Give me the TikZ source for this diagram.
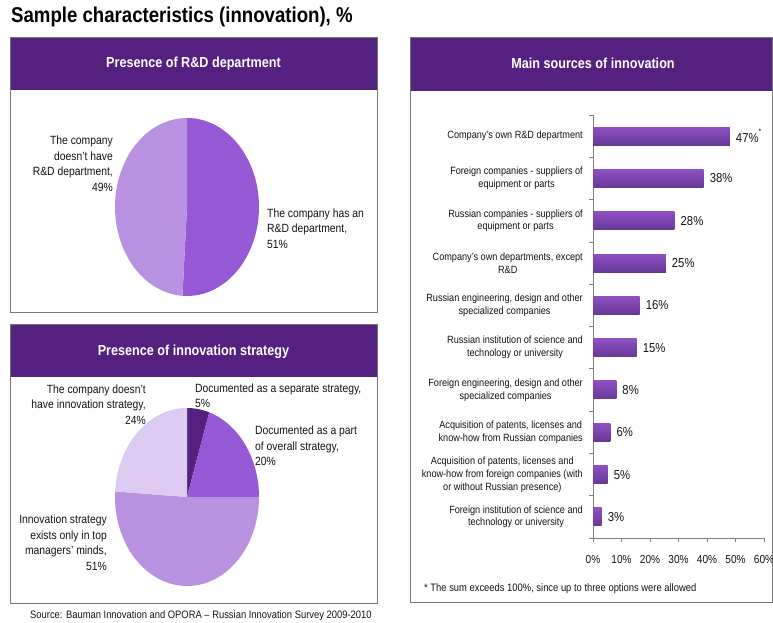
\documentclass[tikz,border=0pt]{standalone}
\usepackage{fontspec}
\setmainfont[FakeStretch=0.87]{Liberation Sans}
\definecolor{hdr}{RGB}{84,33,128}
\definecolor{pieMed}{RGB}{150,89,214}
\definecolor{pieLight}{RGB}{185,145,225}
\definecolor{pieVLight}{RGB}{220,202,240}
\definecolor{pieDark}{RGB}{84,33,128}
\definecolor{barTop}{RGB}{142,80,196}
\definecolor{barBot}{RGB}{104,56,150}
\definecolor{frameGray}{RGB}{120,120,120}
\definecolor{axisGray}{RGB}{128,128,128}
\definecolor{txt}{RGB}{20,20,20}
\begin{document}
\begin{tikzpicture}[x=1pt,y=-1pt,
  panel/.style={draw=frameGray,line width=0.8pt,fill=white},
  hdrbar/.style={fill=hdr},
  hdrtext/.style={text=white,font=\bfseries\fontsize{14.5}{17}\selectfont,inner sep=0pt},
  pielbl/.style={text=txt,font=\fontsize{11.9}{15.5}\selectfont,inner sep=0pt},
  catlbl/.style={text=txt,font=\fontsize{10.5}{12.8}\selectfont,inner sep=0pt,align=center,anchor=east},
  vallbl/.style={text=txt,font=\fontsize{13}{15}\selectfont,inner sep=0pt,anchor=west},
  ticklbl/.style={text=txt,font=\fontsize{11.6}{14}\selectfont,inner sep=0pt},
  smalltxt/.style={text=txt,font=\fontsize{10.8}{12}\selectfont,inner sep=0pt,anchor=west},
  bar/.style={top color=barTop,bottom color=barBot,draw=none},
  axisline/.style={draw=axisGray,line width=0.8pt}
]
\useasboundingbox (0,0) rectangle (773,623);

% title
\node[anchor=west,inner sep=0pt,text=black,font=\bfseries\fontsize{21.4}{24}\selectfont] (title) at (11,17) {Sample characteristics (innovation), \%};

% ---------- panel 1 ----------
\draw[panel] (10,37) rectangle (377,312);
\fill[hdrbar] (10,37) rectangle (377,90);
\draw[frameGray,line width=0.8pt] (10,37) rectangle (377,312);
\node[hdrtext] (h1) at (193.5,63.5) {Presence of R\&D department};

\coordinate (c1) at (187,207);
\fill[pieMed] (c1) -- ++(270:72 and 89) arc[start angle=270,end angle=453.6,x radius=72,y radius=89] -- cycle;
\fill[pieLight] (c1) -- ++(453.6:72 and 89) arc[start angle=453.6,end angle=630,x radius=72,y radius=89] -- cycle;

\node[pielbl,align=right,anchor=east] (l1a) at (113,163.5) {The company\\doesn't have\\R\&D department,\\49\%};
\node[pielbl,align=left,anchor=west] (l1b) at (267,228.5) {The company has an\\R\&D department,\\51\%};

% ---------- panel 2 ----------
\draw[panel] (10,324) rectangle (377,603);
\fill[hdrbar] (10,324) rectangle (377,377);
\draw[frameGray,line width=0.8pt] (10,324) rectangle (377,603);
\node[hdrtext] (h2) at (193.5,351.5) {Presence of innovation strategy};

\coordinate (c2) at (187,497);
\fill[pieDark] (c2) -- ++(270:72 and 89) arc[start angle=270,end angle=288,x radius=72,y radius=89] -- cycle;
\fill[pieMed] (c2) -- ++(288:72 and 89) arc[start angle=288,end angle=360,x radius=72,y radius=89] -- cycle;
\fill[pieLight] (c2) -- ++(360:72 and 89) arc[start angle=360,end angle=543.6,x radius=72,y radius=89] -- cycle;
\fill[pieVLight] (c2) -- ++(543.6:72 and 89) arc[start angle=543.6,end angle=630,x radius=72,y radius=89] -- cycle;

\node[pielbl,align=left,anchor=west] (l2a) at (195,395.5) {Documented as a separate strategy,\\5\%};
\node[pielbl,align=left,anchor=west] (l2b) at (255,446) {Documented as a part\\of overall strategy,\\20\%};
\node[pielbl,align=right,anchor=east] (l2c) at (146,404.5) {The company doesn't\\have innovation strategy,\\24\%};
\node[pielbl,align=right,anchor=east] (l2d) at (107,542.5) {Innovation strategy\\exists only in top\\managers' minds,\\51\%};

\node[smalltxt] (src) at (30,616) {Source: Bauman Innovation and OPORA -- Russian Innovation Survey 2009-2010};

% ---------- panel 3 ----------
\draw[panel] (410,37) rectangle (772,602);
\fill[hdrbar] (410,37) rectangle (772,91);
\draw[frameGray,line width=0.8pt] (410,37) rectangle (772,602);
\node[hdrtext] (h3) at (593,63.5) {Main sources of innovation};

% axes
\draw[axisline] (593,115) -- (593,538) -- (764,538);
\foreach \k in {0,...,10} \draw[axisline] (589,115+42.3*\k) -- (593,115+42.3*\k);
\foreach \k in {0,...,6} {
  \draw[axisline] (593+28.5*\k,538) -- (593+28.5*\k,542);
  \pgfmathtruncatemacro{\pc}{10*\k}
  \node[ticklbl] (t\k) at (593+28.5*\k,560) {\pc\%};
}

% bars
\foreach \i/\v/\t in {
  1/47/{Company's own R\&D department},
  2/38/{Foreign companies - suppliers of\\equipment or parts},
  3/28/{Russian companies - suppliers of\\equipment or parts},
  4/25/{Company's own departments, except\\R\&D},
  5/16/{Russian engineering, design and other\\specialized companies},
  6/15/{Russian institution of science and\\technology or university},
  7/8/{Foreign engineering, design and other\\specialized companies},
  8/6/{Acquisition of patents, licenses and\\know-how from Russian companies},
  9/5/{Acquisition of patents, licenses and\\know-how from foreign companies (with\\or without Russian presence)},
  10/3/{Foreign institution of science and\\technology or university}} {
  \pgfmathsetmacro{\yc}{115+42.3*(\i-0.5)}
  \pgfmathsetmacro{\xe}{593+2.91*\v}
  \shade[bar] (593.4,\yc-9) rectangle (\xe,\yc+9);
  \node[catlbl] (cat\i) at (583,\yc) {\t};
  \ifnum\i=1
    \node[vallbl] (val\i) at (\xe+6,\yc) {\v\%\rlap{\raisebox{1.2ex}{\fontsize{8}{8}\selectfont *}}};
  \else
    \node[vallbl] (val\i) at (\xe+6,\yc) {\v\%};
  \fi
}

\node[smalltxt] (foot) at (424,589) {* The sum exceeds 100\%, since up to three options were allowed};
\end{tikzpicture}
\end{document}
